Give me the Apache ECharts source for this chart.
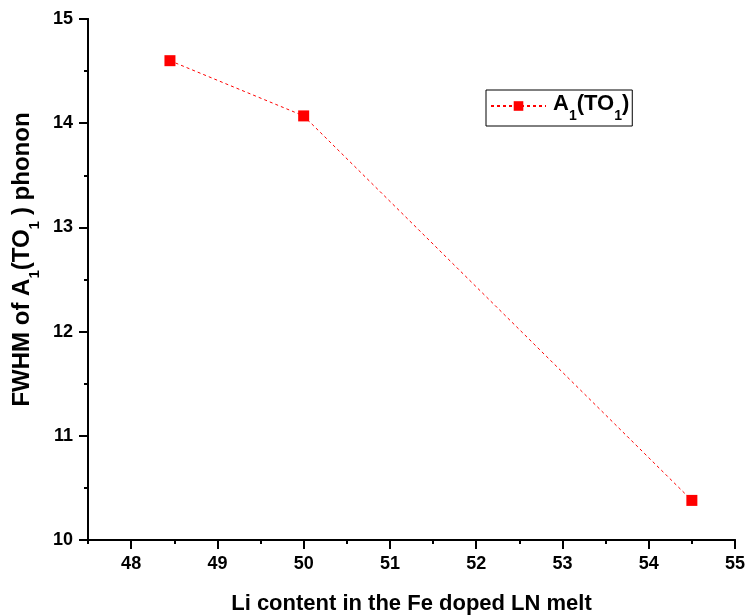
<!DOCTYPE html>
<html><head><meta charset="utf-8">
<script src="https://cdn.jsdelivr.net/npm/echarts@6/dist/echarts.min.js"></script>
<style>html,body{margin:0;padding:0;background:#fff}#c{width:747px;height:615px}</style>
</head><body><div id="c"></div>
<script>
const liContent = [48.45, 50, 54.5];
const fwhm = [14.6, 14.07, 10.38];
const xMajorTicks = [48, 49, 50, 51, 52, 53, 54, 55];
const xMinorTicks = [47.5, 48.5, 49.5, 50.5, 51.5, 52.5, 53.5, 54.5];
const yMajorTicks = [10, 11, 12, 13, 14, 15];
const yMinorTicks = [10.5, 11.5, 12.5, 13.5, 14.5];
const seriesName = 'A1(TO1)';

const font = 'Liberation Sans, Arial, sans-serif';
const axisLine = {show: true, lineStyle: {color: '#000', width: 2}};
const legendRich = {
  b: {fontFamily: font, fontWeight: 'bold', fontSize: 22, lineHeight: 26, verticalAlign: 'top', color: '#000'},
  s: {fontFamily: font, fontWeight: 'bold', fontSize: 14, lineHeight: 14, verticalAlign: 'top', padding: [16, 0, 0, 0], color: '#000'}
};
const yNameRich = {
  b: {fontFamily: font, fontWeight: 'bold', fontSize: 24, lineHeight: 28, verticalAlign: 'top', color: '#000'},
  s: {fontFamily: font, fontWeight: 'bold', fontSize: 15, lineHeight: 15, verticalAlign: 'top', padding: [17, 0, 0, 0], color: '#000'},
  sp: {fontFamily: font, fontWeight: 'bold', fontSize: 15, lineHeight: 15, verticalAlign: 'top', padding: [17, 6, 0, 0], color: '#000'}
};
const chart = echarts.init(document.getElementById('c'));
const xBase = {type: 'value', min: 47.5, max: 55, position: 'bottom', splitLine: {show: false}, axisLine: axisLine};
const yBase = {type: 'value', min: 10, max: 15, position: 'left', splitLine: {show: false}, axisLine: axisLine};
chart.setOption({
  animation: false,
  grid: {left: 88, right: 12, top: 19, bottom: 75, containLabel: false, outerBoundsMode: 'none'},
  legend: {
    left: 486, top: 90, orient: 'vertical',
    borderColor: '#000', borderWidth: 1, padding: [3, 3, 3, 4],
    itemWidth: 55, itemHeight: 12, itemGap: 0,
    data: [seriesName],
    formatter: () => '{b|A}{s|1}{b|(TO}{s|1}{b|)}',
    textStyle: {padding: [0, 0, 0, 2], rich: legendRich}
  },
  xAxis: [
    Object.assign({}, xBase, {
      name: 'Li content in the Fe doped LN melt', nameLocation: 'middle', nameGap: 53,
      nameTextStyle: {fontFamily: font, fontWeight: 'bold', fontSize: 22, color: '#000'},
      axisTick: {show: true, length: 9, inside: false, lineStyle: {color: '#000', width: 2}, customValues: xMajorTicks},
      axisLabel: {show: true, margin: 15, fontFamily: font, fontWeight: 'bold', fontSize: 18, color: '#000', customValues: xMajorTicks}
    }),
    Object.assign({}, xBase, {
      axisTick: {show: true, length: 4, inside: false, lineStyle: {color: '#000', width: 2}, customValues: xMinorTicks},
      axisLabel: {show: false}
    })
  ],
  yAxis: [
    Object.assign({}, yBase, {
      name: '{b|FWHM of A}{s|1}{b|(TO}{sp|1}{b|) phonon}', nameLocation: 'middle', nameGap: 46, nameRotate: 90,
      nameTextStyle: {padding: [0, 0, 0, 40], rich: yNameRich},
      axisTick: {show: true, length: 9, inside: false, lineStyle: {color: '#000', width: 2}, customValues: yMajorTicks},
      axisLabel: {show: true, margin: 15, fontFamily: font, fontWeight: 'bold', fontSize: 18, color: '#000', customValues: yMajorTicks}
    }),
    Object.assign({}, yBase, {
      axisTick: {show: true, length: 4, inside: false, lineStyle: {color: '#000', width: 2}, customValues: yMinorTicks},
      axisLabel: {show: false}
    })
  ],
  series: [{
    name: seriesName, type: 'line', xAxisIndex: 0, yAxisIndex: 0,
    data: liContent.map((x, i) => [x, fwhm[i]]),
    symbol: 'rect', symbolSize: 11,
    itemStyle: {color: '#ff0000'},
    lineStyle: {color: '#ff0000', width: 1, type: [3, 3]}
  }]
});
</script></body></html>
